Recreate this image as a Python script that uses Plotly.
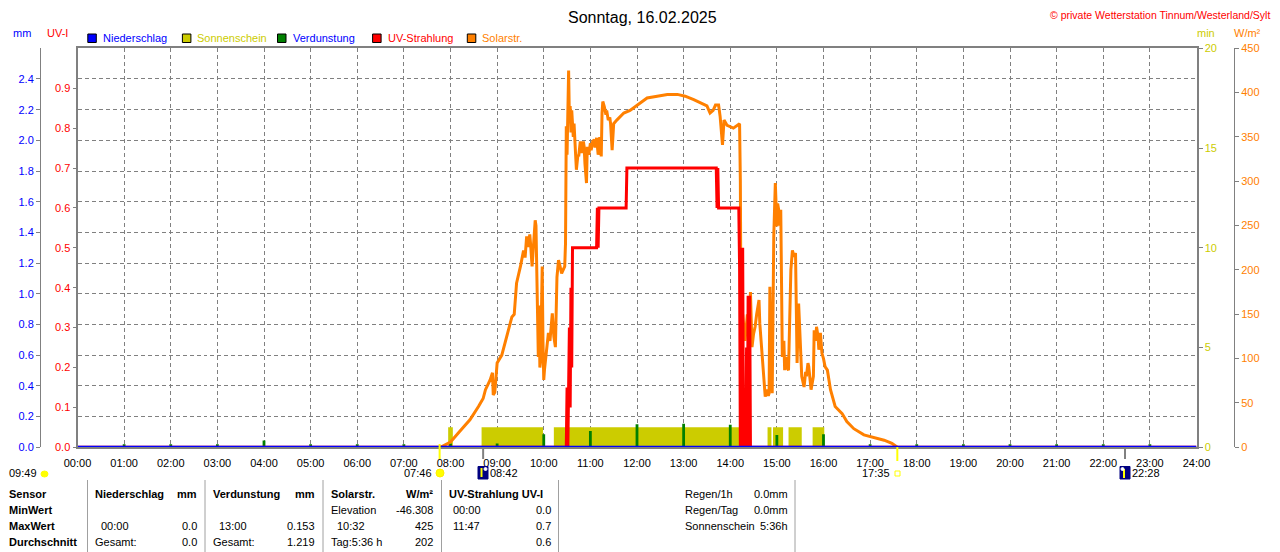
import plotly.graph_objects as go

# the page body has an 8px margin, so the figure is 8px smaller and all pixel positions are shifted
OFF = 8
W, H = 1280 - OFF, 552 - OFF
FONT = "Liberation Sans"
# plot area in window pixels
PX_L, PX_R = 77.5, 1196.5
PX_B, PX_T = 447.3, 48.3

GRAY = "#808080"
BLUE = "#0000ff"
RED = "#ff0000"
ORANGE = "#ff8000"
YELLOW = "#cccc00"
GREEN = "#008000"

# ---- data ----
hour_labels = [f"{h:02d}:00" for h in range(25)]

solar_time = ["07:47", "08:00", "08:12", "08:25", "08:36", "08:42", "08:45", "08:51", "08:54", "08:55",
              "08:57", "08:59", "09:00", "09:06", "09:13", "09:19", "09:22", "09:25", "09:30", "09:32",
              "09:34", "09:36", "09:38", "09:40", "09:42", "09:43", "09:45", "09:47", "09:49", "09:50",
              "09:51", "09:52", "09:53", "09:54", "09:55", "09:56", "09:57", "09:58", "09:59", "10:00",
              "10:01", "10:02", "10:04", "10:06", "10:08", "10:10", "10:11", "10:13", "10:15", "10:17",
              "10:19", "10:21", "10:23", "10:25", "10:27", "10:28", "10:29", "10:30", "10:31", "10:32",
              "10:33", "10:34", "10:35", "10:36", "10:38", "10:39", "10:41", "10:42", "10:44", "10:45",
              "10:47", "10:49", "10:51", "10:52", "10:53", "10:55", "10:56", "10:58", "11:00", "11:01",
              "11:03", "11:05", "11:06", "11:08", "11:10", "11:11", "11:12", "11:14", "11:15", "11:16",
              "11:18", "11:20", "11:21", "11:23", "11:25", "11:26", "11:28", "11:30", "11:34", "11:43",
              "11:51", "12:00", "12:13", "12:26", "12:39", "12:52", "13:02", "13:13", "13:22", "13:30",
              "13:34", "13:38", "13:41", "13:45", "13:47", "13:50", "13:52", "13:56", "14:04", "14:12",
              "14:13", "14:14", "14:16", "14:19", "14:22", "14:24", "14:26", "14:28", "14:30", "14:32",
              "14:34", "14:37", "14:38", "14:40", "14:42", "14:44", "14:45", "14:47", "14:49", "14:50",
              "14:51", "14:52", "14:54", "14:56", "14:58", "15:00", "15:01", "15:03", "15:04", "15:05",
              "15:06", "15:07", "15:09", "15:10", "15:12", "15:13", "15:15", "15:17", "15:18", "15:20",
              "15:22", "15:24", "15:25", "15:26", "15:28", "15:30", "15:32", "15:35", "15:37", "15:38",
              "15:40", "15:41", "15:43", "15:44", "15:47", "15:48", "15:50", "15:51", "15:53", "15:54",
              "15:56", "15:58", "16:00", "16:02", "16:05", "16:09", "16:15", "16:24", "16:30", "16:39",
              "16:52", "17:05", "17:18", "17:28", "17:33", "17:35"]
solar_wm2 = [0, 6, 18, 31, 46, 55, 65, 76, 84, 59,
             62, 89, 95, 104, 129, 147, 150, 185, 204, 215,
             222, 214, 238, 226, 240, 230, 204, 230, 256, 250,
             185, 120, 102, 160, 90, 98, 150, 204, 120, 76,
             88, 98, 110, 129, 120, 140, 151, 125, 113, 192,
             211, 204, 196, 200, 204, 230, 362, 330, 373, 425,
             370, 385, 355, 380, 350, 365, 330, 313, 330, 328,
             345, 332, 345, 339, 320, 298, 339, 330, 343, 335,
             345, 347, 338, 349, 330, 335, 350, 328, 377, 390,
             384, 375, 380, 369, 372, 365, 335, 365, 369, 377,
             380, 386, 394, 396, 398, 398, 396, 392, 388, 385,
             377, 380, 386, 386, 373, 341, 369, 363, 360, 365,
             300, 110, 150, 120, 150, 130, 175, 113, 128, 136,
             150, 166, 140, 118, 95, 70, 57, 65, 58, 61,
             181, 120, 61, 238, 298, 249, 275, 264, 250, 268,
             180, 102, 120, 87, 102, 90, 87, 181, 200, 222,
             215, 219, 150, 95, 162, 117, 80, 68, 85, 80,
             95, 91, 70, 65, 80, 132, 120, 136, 125, 110,
             129, 106, 100, 91, 87, 65, 46, 38, 29, 21,
             14, 11, 8, 4.5, 1, 0]

uv_time = ["00:00", "10:29", "10:30", "10:31", "10:32", "10:33", "10:34", "10:35", "10:36", "10:37",
           "11:08", "11:09", "11:10", "11:11", "11:46", "11:47", "13:42", "13:43", "13:44", "13:45",
           "14:11", "14:12", "14:13", "14:14", "14:15", "14:16", "14:17", "14:20", "14:21", "14:22",
           "14:23", "14:24", "14:25", "14:26", "24:00"]
uv_index = [0, 0, 0.15, 0, 0.15, 0.3, 0.1, 0.4, 0.2, 0.5,
            0.5, 0.6, 0.5, 0.6, 0.6, 0.7, 0.7, 0.6, 0.7, 0.6,
            0.6, 0.45, 0, 0.5, 0, 0.5, 0, 0, 0.25, 0,
            0.38, 0, 0.38, 0, 0]

sun_start = ["07:57", "08:40", "10:13", "14:48", "14:55", "15:15", "15:46"]
sun_end = ["08:03", "09:59", "14:12", "14:53", "15:08", "15:32", "16:01"]
sun_minutes = [1.0, 1.0, 1.0, 1.0, 1.0, 1.0, 1.0]

evap_time = [f"{h:02d}:00" for h in range(1, 24)]
evap_mm = [0.02, 0.02, 0.02, 0.045, 0.02, 0.02, 0.02, 0.025, 0.025, 0.085,
           0.107, 0.15, 0.153, 0.147, 0.08, 0.085, 0.02, 0.02, 0.02, 0.02,
           0.02, 0.02, 0.02]

rain_time = ["00:00", "24:00"]
rain_mm = [0.0, 0.0]

sunrise, sunset = "07:46", "17:35"
moonset, moonrise = "08:42", "22:28"
day_length = "09:49"

table_rows = [
    # (y, sensor, rain_a, rain_b, evap_a, evap_b, solar_a, solar_b, uv_a, uv_b)
    (510, "MinWert", "", "", "", "", "Elevation", "-46.308", "00:00", "0.0"),
    (526, "MaxWert", "00:00", "0.0", "13:00", "0.153", "10:32", "425", "11:47", "0.7"),
    (542, "Durchschnitt", "Gesamt:", "0.0", "Gesamt:", "1.219", "Tag:5:36 h", "202", "", "0.6"),
]
summary = [("Regen/1h", "0.0mm"), ("Regen/Tag", "0.0mm"), ("Sonnenschein", "5:36h")]


def hours(s):
    h, m = s.split(":")
    return int(h) + int(m) / 60


def fx(x):
    return (x - OFF) / W


def fy(y):
    return 1 - (y - OFF) / H


fig = go.Figure()

mids = [(hours(a) + hours(b)) / 2 for a, b in zip(sun_start, sun_end)]
widths = [hours(b) - hours(a) for a, b in zip(sun_start, sun_end)]
fig.add_trace(go.Bar(x=mids, y=sun_minutes, width=widths, marker=dict(color=YELLOW, line=dict(width=0)),
                     yaxis="y", name="Sonnenschein"))
fig.add_trace(go.Bar(x=[hours(t) for t in evap_time], y=evap_mm, width=0.06,
                     marker=dict(color=GREEN, line=dict(width=0)), yaxis="y2", name="Verdunstung"))
fig.add_trace(go.Scatter(x=[hours(t) for t in solar_time], y=solar_wm2, mode="lines",
                         line=dict(color=ORANGE, width=3), yaxis="y3", name="Solarstr."))
fig.add_trace(go.Scatter(x=[hours(t) for t in uv_time], y=uv_index, mode="lines",
                         line=dict(color=RED, width=3), yaxis="y4", name="UV-Strahlung"))
fig.add_trace(go.Scatter(x=[hours(t) for t in rain_time], y=rain_mm, mode="lines",
                         line=dict(color=BLUE, width=3), yaxis="y5", name="Niederschlag"))

dom_y = [fy(PX_B), fy(PX_T)]
tick_font = dict(family=FONT, size=11)

annotations = []


def label(x, y, text, color="black", size=11, anchor="left", bold=False):
    if bold:
        text = f"<b>{text}</b>"
    annotations.append(dict(x=fx(x), y=fy(y), xref="paper", yref="paper", text=text, showarrow=False,
                            xanchor=anchor, yanchor="middle", borderpad=0,
                            font=dict(family=FONT, size=size, color=color)))


shapes = []


def box(x0, y0, x1, y1, fill, line="black", kind="rect", lw=1):
    shapes.append(dict(type=kind, xref="paper", yref="paper", x0=fx(x0), y0=fy(y0), x1=fx(x1), y1=fy(y1),
                       fillcolor=fill, line=dict(color=line, width=lw)))


def vline(x, y0, y1, color, lw=1, xref="paper"):
    xv = hours(x) if xref == "x" else fx(x)
    shapes.append(dict(type="line", xref=xref, yref="paper", x0=xv, x1=xv, y0=fy(y0), y1=fy(y1),
                       line=dict(color=color, width=lw)))


# title and header
label(642, 17, "Sonntag, 16.02.2025", size=16, anchor="center")
label(1271, 14.5, "© private Wetterstation Tinnum/Westerland/Sylt", color=RED, size=10.5, anchor="right")
label(22, 33, "mm", color=BLUE, anchor="center")
label(57, 33, "UV-I", color=RED, anchor="center")
label(1206, 33, "min", color=YELLOW, anchor="center")
label(1247, 33, "W/m²", color=ORANGE, anchor="center")

legend = [(87.8, "Niederschlag", BLUE, BLUE), (182.4, "Sonnenschein", YELLOW, YELLOW),
          (277.5, "Verdunstung", GREEN, BLUE), (372.6, "UV-Strahlung", RED, RED),
          (467.3, "Solarstr.", ORANGE, ORANGE)]
for lx, name, sq, tc in legend:
    box(lx, 34, lx + 8.5, 42.5, sq)
    label(lx + 14, 38, name, color=tc)

# sun / moon events below the time axis
vline(sunrise, 444, 459, "#ffff00", 2, xref="x")
vline(sunset, 447, 461, "#ffff00", 2, xref="x")
vline(moonset, 448, 459, GRAY, 2, xref="x")
vline(moonrise, 448, 459, GRAY, 2, xref="x")

label(38, 473, day_length, anchor="right")
box(41, 471, 48, 477, "#ffff00", line="#ffff00", kind="circle")
label(433, 473, sunrise, anchor="right")
box(436, 469, 444, 477, "#ffff00", line="#ffee00", kind="circle")
box(478, 466.5, 488, 479, "#000080", line="#000080")
vline(481.5, 468, 477, "#ffff00", 2)
box(484, 467.5, 487, 470.5, "white", line="white", kind="circle")
label(489, 473, moonset)
label(891, 473, sunset, anchor="right")
box(895, 471, 900, 476, "rgba(0,0,0,0)", line="#ffff00")
box(1120, 466.5, 1130, 479, "#000080", line="#000080")
vline(1124, 469, 478, "#ffff00", 2)
box(1121, 467.5, 1124, 470.5, "white", line="white", kind="circle")
label(1131, 473, moonrise)

# statistics table
for sx in [87.5, 205, 323, 441.5, 558.5, 795]:
    vline(sx, 480, 552, "#a0a0a0", 1)
label(8, 494, "Sensor", bold=True)
label(94, 494, "Niederschlag", bold=True)
label(198, 494, "mm", bold=True, anchor="right")
label(212, 494, "Verdunstung", bold=True)
label(316, 494, "mm", bold=True, anchor="right")
label(330, 494, "Solarstr.", bold=True)
label(434, 494, "W/m²", bold=True, anchor="right")
label(448, 494, "UV-Strahlung UV-I", bold=True)
for ry, name, ra, rb, ea, eb, sa, sb, ua, ub in table_rows:
    label(8, ry, name, bold=True)
    indent = 6 if ra.count(":") == 1 and not ra.endswith(":") else 0
    label(94 + indent, ry, ra)
    label(198, ry, rb, anchor="right")
    label(212 + (6 if eb and not ea.endswith(":") else 0), ry, ea)
    label(316, ry, eb, anchor="right")
    label(330 + (6 if sa[:1].isdigit() else 0), ry, sa)
    label(434, ry, sb, anchor="right")
    label(452, ry, ua)
    label(552, ry, ub, anchor="right")
for i, (name, val) in enumerate(summary):
    label(684, 494 + 16 * i, name)
    label(789, 494 + 16 * i, val, anchor="right")

axis_common = dict(automargin=False, zeroline=False)
fig.update_layout(
    template="none",
    width=W, height=H, margin=dict(l=0, r=0, t=0, b=0, pad=0, autoexpand=False),
    paper_bgcolor="white", plot_bgcolor="white", showlegend=False, barmode="overlay",
    font=dict(family=FONT, size=11, color="black"),
    xaxis=dict(axis_common, domain=[fx(PX_L), fx(PX_R)], range=[0, 24], tickvals=list(range(25)),
               ticktext=hour_labels, tickangle=0, tickfont=dict(family=FONT, size=11, color="black"),
               ticks="outside", ticklen=4, tickcolor="rgba(0,0,0,0)",
               showgrid=True, gridcolor=GRAY, gridwidth=1, griddash="4px,3px",
               showline=True, linecolor=GRAY, linewidth=2, mirror=True),
    yaxis=dict(axis_common, domain=dom_y, range=[0, 20], side="right", anchor="x", tickvals=[0, 5, 10, 15, 20],
               tickfont=dict(tick_font, color=YELLOW), ticks="outside", ticklen=4, tickcolor=GRAY,
               showline=True, linecolor=GRAY, linewidth=2, mirror=True, showgrid=False),
    yaxis2=dict(axis_common, overlaying="y", anchor="free", position=fx(40), side="left", range=[0, 2.6],
                tickvals=[round(0.2 * i, 1) for i in range(13)], tickformat=".1f",
                tickfont=dict(tick_font, color=BLUE), ticks="outside", ticklen=4, tickcolor=GRAY,
                showline=True, linecolor=GRAY, linewidth=1,
                showgrid=True, gridcolor=GRAY, gridwidth=1, griddash="4px,3px"),
    yaxis3=dict(axis_common, overlaying="y", anchor="free", position=fx(1234), side="right", range=[0, 450],
                tickvals=list(range(0, 451, 50)), tickfont=dict(tick_font, color=ORANGE),
                ticks="outside", ticklen=4, tickcolor=GRAY, showline=True, linecolor=GRAY, linewidth=1,
                showgrid=False),
    yaxis4=dict(axis_common, overlaying="y", anchor="x", side="left", range=[0, 1.0],
                tickvals=[round(0.1 * i, 1) for i in range(10)], tickformat=".1f",
                tickfont=dict(tick_font, color=RED), ticks="outside", ticklen=4, tickcolor=GRAY,
                showline=False, showgrid=False),
    yaxis5=dict(axis_common, overlaying="y", range=[0, 2.6], visible=False),
    annotations=annotations, shapes=shapes,
)

fig.write_html("out.html")
